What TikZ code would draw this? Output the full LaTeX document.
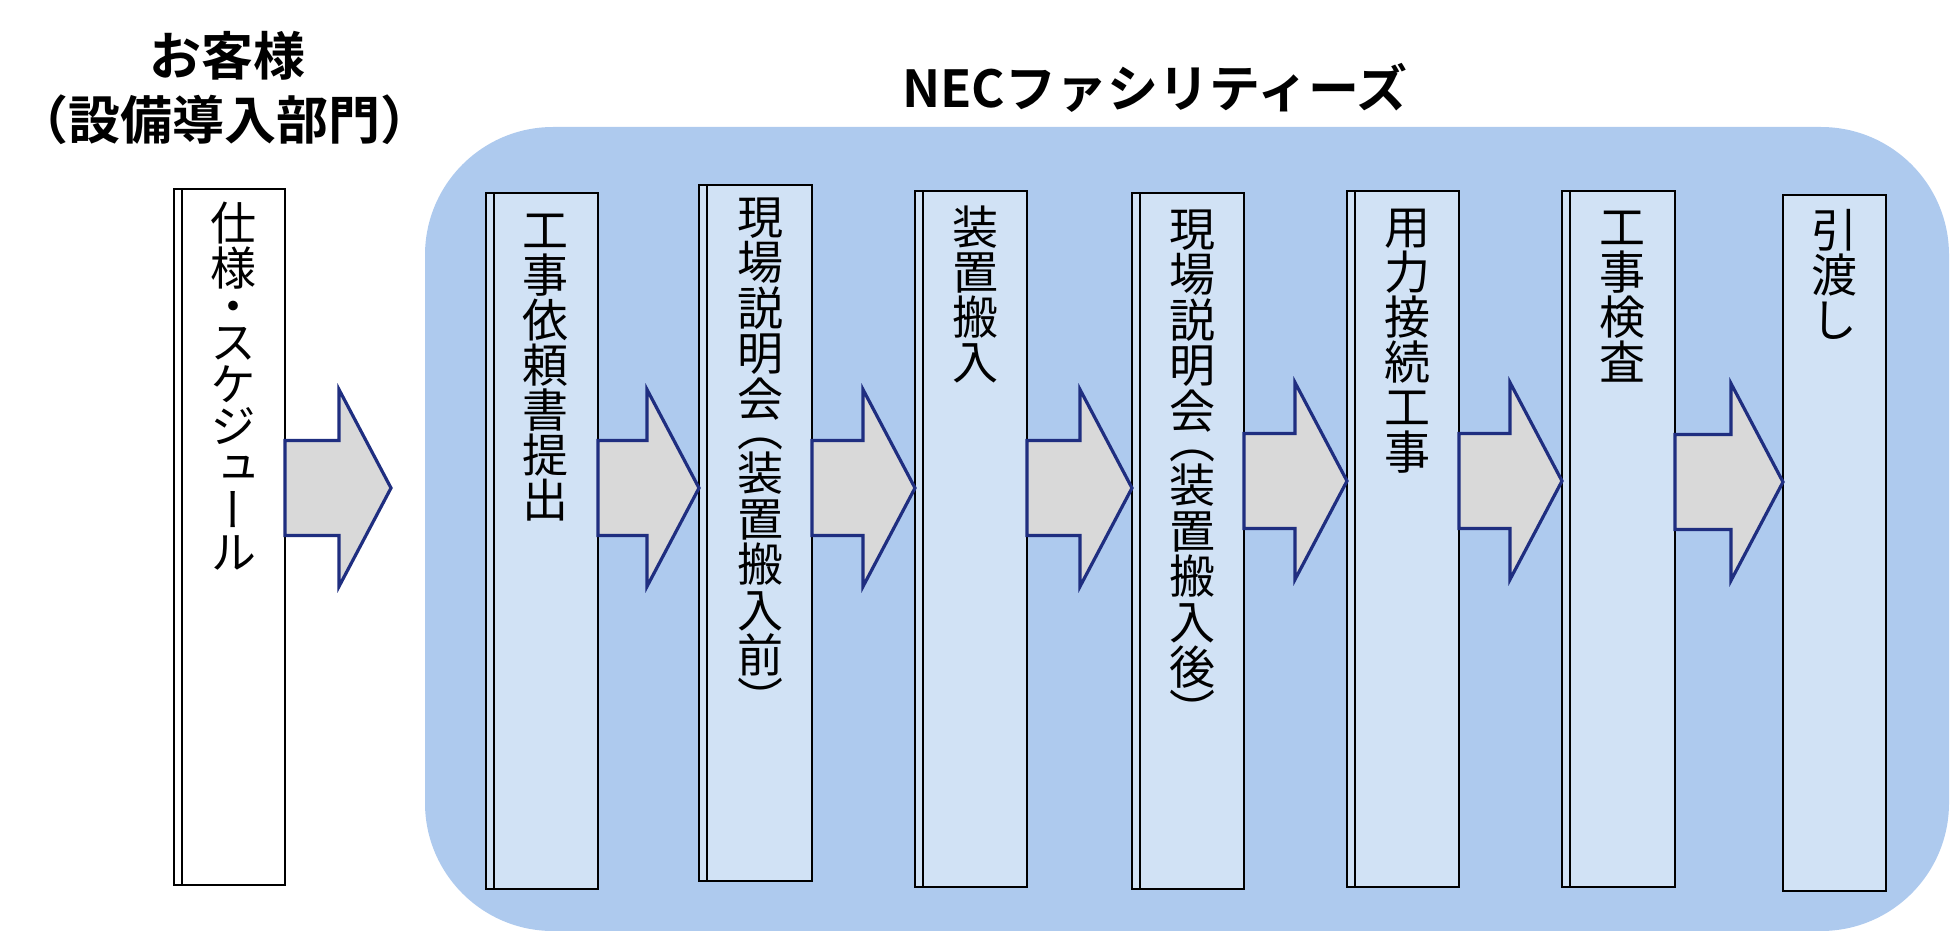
\documentclass[tikz,border=0pt]{standalone}
\usepackage{fontspec}
\usetikzlibrary{calc}
\newfontfamily\titlefont{Noto Sans CJK JP Bold}
\newfontfamily\colfont{Noto Sans CJK JP}[RawFeature=+vert]
\definecolor{bgblue}{RGB}{174,202,238}
\definecolor{boxblue}{RGB}{209,226,245}
\definecolor{arrgray}{RGB}{217,217,217}
\definecolor{arrnavy}{RGB}{31,46,128}
\newdimen\pxu \pxu=0.5pt
\def\kp{45}\def\pp{27}
% em-box based glyph box
\newcommand\embox[1]{\hbox{\vrule height .88em depth .12em width 0pt\smash{#1}}}
\newcommand\vc[2][\kp]{\hbox to 0pt{\hss\vbox to #1\pxu{\vss\embox{#2}\vss}\hss}}
% opening vertical bracket: lower half of the em box fills the cell
\newcommand\vco[1]{\hbox to 0pt{\hss\vbox to \pp\pxu{\vss\embox{#1}\kern-2\pxu}\hss}}
% closing vertical bracket: upper half of the em box fills the cell
\newcommand\vcc[1]{\hbox to 0pt{\hss\vbox to \pp\pxu{\kern-2\pxu\embox{#1}\vss\kern0pt}\hss}}
\def\vchars#1{\vbox{\offinterlineskip\vcharsloop#1\relax}}
\def\vcharsloop#1{\ifx#1\relax\else\vsel{#1}\expandafter\vcharsloop\fi}
\def\vsel#1{\ifx#1︵\vco{#1}\else\ifx#1︶\vcc{#1}\else\vc{#1}\fi\fi}
\newcommand\procbox[6][]{% style, name, L, T, R, B
  \node[stepbox, #1, minimum width={(#5-#3)*0.5pt}, minimum height={(#6-#4)*0.5pt}] (#2) at (#3,#4) {};}
\newcommand\dblline[1]{\draw[dbl] ($(#1.north west)+(8,0)$) -- ($(#1.south west)+(8,0)$);}
\newcommand\blockarrow[3]{% from, to, y-level coordinate
  \coordinate (s) at (#1 |- #3);
  \coordinate (t) at (#2 |- #3);
  \draw[barrow] ($(s)+(0,-47.5)$) -- ($(t)+(-52,-47.5)$) -- ($(t)+(-52,-98.5)$) -- (t)
    -- ($(t)+(-52,98.5)$) -- ($(t)+(-52,47.5)$) -- ($(s)+(0,47.5)$) -- cycle;}
\begin{document}
\begin{tikzpicture}[x=0.5pt,y=-0.5pt,
  stepbox/.style={draw=black,line width=1.25pt,fill=boxblue,anchor=north west,inner sep=0,outer sep=0},
  dbl/.style={draw=black,line width=1.25pt},
  barrow/.style={draw=arrnavy,fill=arrgray,line width=1.6pt,line join=miter},
  coltext/.style={inner sep=0,outer sep=0,anchor=north,font=\colfont\fontsize{23pt}{23pt}\selectfont},
  titletext/.style={inner sep=0,font=\titlefont\fontsize{26pt}{26pt}\selectfont}]
\useasboundingbox (0,0) rectangle (1950,931);
% NEC area
\fill[bgblue, rounded corners=64pt] (425,127) rectangle (1949,931);
% titles
\node[titletext] (cust) at (227,56) {お客様};
\node[titletext] (dept) at (225,120) {（設備導入部門）};
\node[titletext, font=\titlefont\fontsize{25.5pt}{25.5pt}\selectfont] (nec) at (1155,88) {NECファシリティーズ};
% process boxes
\procbox[fill=white]{b1}{174}{189}{285}{885}
\procbox{b2}{486}{193}{598}{889}
\procbox{b3}{699}{185}{812}{881}
\procbox{b4}{915}{191}{1027}{887}
\procbox{b5}{1132}{193}{1244}{889}
\procbox{b6}{1347}{191}{1459}{887}
\procbox{b7}{1562}{191}{1675}{887}
\procbox{b8}{1783}{195}{1886}{891}
\foreach \b in {b1,b2,b3,b4,b5,b6,b7}{\dblline{\b}}
% arrows
\coordinate (yA) at (0,488);
\coordinate (yB) at (0,481);
\coordinate (yC) at (0,482);
\coordinate (a1tip) at (391,488);
\blockarrow{b1.east}{a1tip}{yA}
\blockarrow{b2.east}{b3.west}{yA}
\blockarrow{b3.east}{b4.west}{yA}
\blockarrow{b4.east}{b5.west}{yA}
\blockarrow{b5.east}{b6.west}{yB}
\blockarrow{b6.east}{b7.west}{yB}
\blockarrow{b7.east}{b8.west}{yC}
% column texts
\node[coltext] (t1) at (233.5,201) {\vbox{\offinterlineskip\vc{仕}\vc{様}\vc[30]{・}\vc[42]{ス}\vc[42]{ケ}\vc[42]{ジ}\vc[42]{ュ}\vc[42]{ー}\vc[42]{ル}}};
\node[coltext] (t2) at (545.5,208) {\vchars{工事依頼書提出}};
\node[coltext] (t3) at (760,194) {\def\kp{45.5}\def\pp{29}\vchars{現場説明会︵装置搬入前︶}};
\node[coltext] (t4) at (975.5,205) {\vchars{装置搬入}};
\node[coltext] (t5) at (1192,206) {\def\kp{45.5}\def\pp{29}\vchars{現場説明会︵装置搬入後︶}};
\node[coltext] (t6) at (1407,205) {\vchars{用力接続工事}};
\node[coltext] (t7) at (1622.5,205) {\vchars{工事検査}};
\node[coltext] (t8) at (1834.5,208) {\vchars{引渡し}};
\end{tikzpicture}
\end{document}
